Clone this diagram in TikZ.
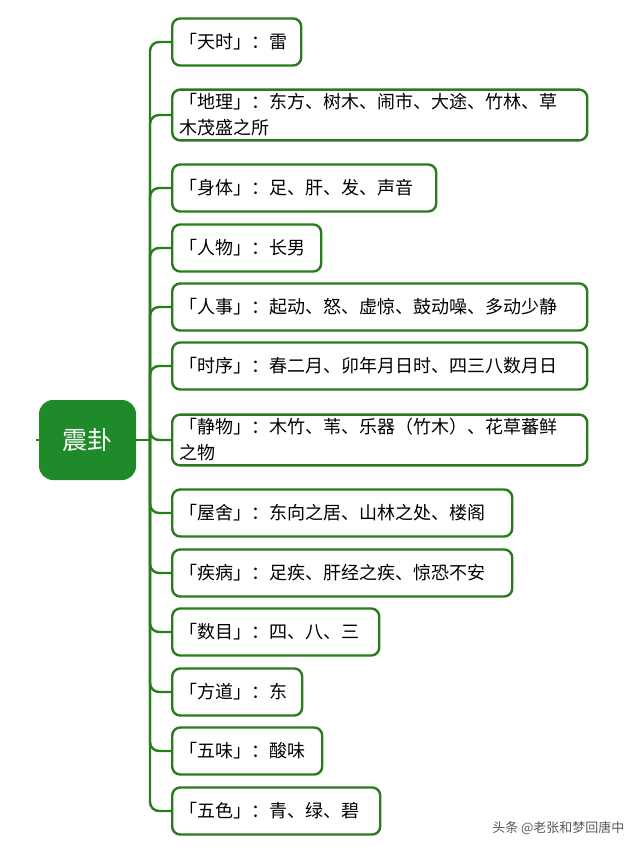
\documentclass[tikz,border=0pt]{standalone}
\usepackage{fontspec}
\setmainfont{Noto Sans CJK SC}
\definecolor{lg}{HTML}{2A7A1E}
\definecolor{rg}{HTML}{1F8A2A}
\begin{document}
\begin{tikzpicture}[x=1pt,y=-1pt,
  leaf/.style={draw=lg,line width=2.4pt,rounded corners=8pt,fill=white,anchor=west,
    align=left,inner xsep=7pt,inner ysep=4pt,font=\fontsize{18}{26}\selectfont,minimum height=47pt},
  br/.style={draw=lg,line width=2.4pt,rounded corners=9pt}]
\useasboundingbox (0,0) rectangle (640,853);
\node[fill=rg,rounded corners=14pt,minimum width=97pt,minimum height=80pt,text=white,font=\fontsize{25}{28}\selectfont] (root) at (87.5,440) {震卦};
\coordinate (sp) at (150,440);
\coordinate (st) at (36,440);
\draw[br] (st) -- (root.west);
\newcommand{\lf}[4]{\node[leaf,text width=#3] (#1) at (171,#2) {#4};}
\lf{a}{42}{115pt}{「天时」：雷}
\lf{b}{115}{401pt}{「地理」：东方、树木、闹市、大途、竹林、草\\木茂盛之所}
\lf{c}{188}{250pt}{「身体」：足、肝、发、声音}
\lf{d}{248}{135pt}{「人物」：长男}
\lf{e}{307}{401pt}{「人事」：起动、怒、虚惊、鼓动噪、多动少静}
\lf{f}{366}{401pt}{「时序」：春二月、卯年月日时、四三八数月日}
\lf{g}{440}{401pt}{「静物」：木竹、苇、乐器（竹木）、花草蕃鲜\\之物}
\lf{h}{513}{326pt}{「屋舍」：东向之居、山林之处、楼阁}
\lf{i}{573}{326pt}{「疾病」：足疾、肝经之疾、惊恐不安}
\lf{j}{632}{193pt}{「数目」：四、八、三}
\lf{k}{692}{116pt}{「方道」：东}
\lf{l}{751}{136pt}{「五味」：酸味}
\lf{m}{811}{194pt}{「五色」：青、绿、碧}
\draw[br] (root.east) -- (sp);
\foreach \n in {a,b,c,d,e,f,g,h,i,j,k,l,m}{\draw[br] (sp) |- (\n.west);}
\node[anchor=east,text=gray!70!black,font=\fontsize{13}{15}\selectfont] (wm) at (628,828) {头条 @老张和梦回唐中};
\end{tikzpicture}
\end{document}
